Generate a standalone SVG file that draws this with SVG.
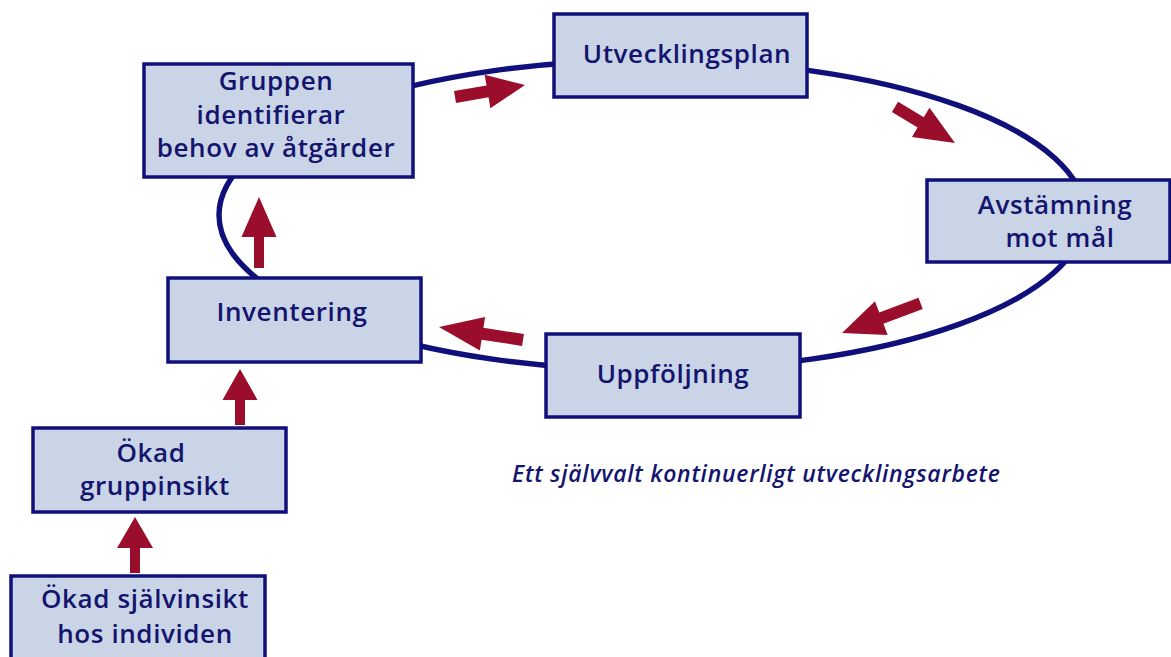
<svg xmlns="http://www.w3.org/2000/svg" width="1171" height="657" viewBox="0 0 1171 657">
<style>
.box{fill:#c9d5e7;stroke:#10107a;stroke-width:3.5}
.t{font-family:"Open Sans","Noto Sans",sans-serif;font-weight:600;font-size:26px;letter-spacing:0.6px;fill:#14146e;text-anchor:middle}
.cap{font-family:"Open Sans","Noto Sans",sans-serif;font-weight:600;font-style:italic;font-size:23px;fill:#14146e}
.loop{fill:none;stroke:#10107a;stroke-width:5.5}
.arr{fill:#9a0d2b}
</style>
<rect width="1171" height="657" fill="#ffffff"/>
<g id="connectors">
<ellipse class="loop" cx="652" cy="215" rx="433" ry="155"/>
<path class="arr" d="M0 0 L-38 -17 L-38 -6 L-71 -6 L-71 6 L-38 6 L-38 17 Z" transform="translate(525 85) rotate(-9.7)"/>
<path class="arr" d="M0 0 L-40 -17 L-40 -6 L-70 -6 L-70 6 L-40 6 L-40 17 Z" transform="translate(955 143) rotate(31)"/>
<path class="arr" d="M0 0 L-42 -18 L-42 -6 L-84 -6 L-84 6 L-42 6 L-42 18 Z" transform="translate(842 333) rotate(159.4)"/>
<path class="arr" d="M0 0 L-44 -17 L-44 -6 L-85 -6 L-85 6 L-44 6 L-44 17 Z" transform="translate(439 327) rotate(188.8)"/>
<path class="arr" d="M0 0 L-40 -17.5 L-40 -5 L-71 -5 L-71 5 L-40 5 L-40 17.5 Z" transform="translate(259 197) rotate(-90)"/>
<path class="arr" d="M0 0 L-31 -17.5 L-31 -5 L-56 -5 L-56 5 L-31 5 L-31 17.5 Z" transform="translate(240 369) rotate(-90)"/>
<path class="arr" d="M0 0 L-31 -18 L-31 -5 L-56 -5 L-56 5 L-31 5 L-31 18 Z" transform="translate(135 517) rotate(-90)"/>
</g>
<g id="n-gruppen">
<rect class="box" x="144" y="64" width="269" height="113"/>
<text class="t" x="276" y="90">Gruppen</text>
<text class="t" x="271" y="124">identifierar</text>
<text class="t" x="276" y="157">behov av åtgärder</text>
</g>
<g id="n-utvecklingsplan">
<rect class="box" x="554" y="14" width="253" height="83"/>
<text class="t" x="687" y="63">Utvecklingsplan</text>
</g>
<g id="n-avstamning">
<rect class="box" x="927" y="180" width="243" height="82"/>
<text class="t" x="1055" y="214">Avstämning</text>
<text class="t" x="1060" y="247">mot mål</text>
</g>
<g id="n-uppfoljning">
<rect class="box" x="546" y="334" width="254" height="83"/>
<text class="t" x="673" y="383">Uppföljning</text>
</g>
<g id="n-inventering">
<rect class="box" x="168" y="278" width="253" height="84"/>
<text class="t" x="292" y="321">Inventering</text>
</g>
<g id="n-gruppinsikt">
<rect class="box" x="33" y="428" width="253" height="84"/>
<text class="t" x="151" y="462">Ökad</text>
<text class="t" x="155" y="495">gruppinsikt</text>
</g>
<g id="n-sjalvinsikt">
<rect class="box" x="11" y="576" width="254" height="90"/>
<text class="t" x="145" y="608">Ökad självinsikt</text>
<text class="t" x="145" y="643">hos individen</text>
</g>
<g id="caption">
<text class="cap" x="512" y="482" textLength="488" lengthAdjust="spacing">Ett självvalt kontinuerligt utvecklingsarbete</text>
</g>
</svg>
